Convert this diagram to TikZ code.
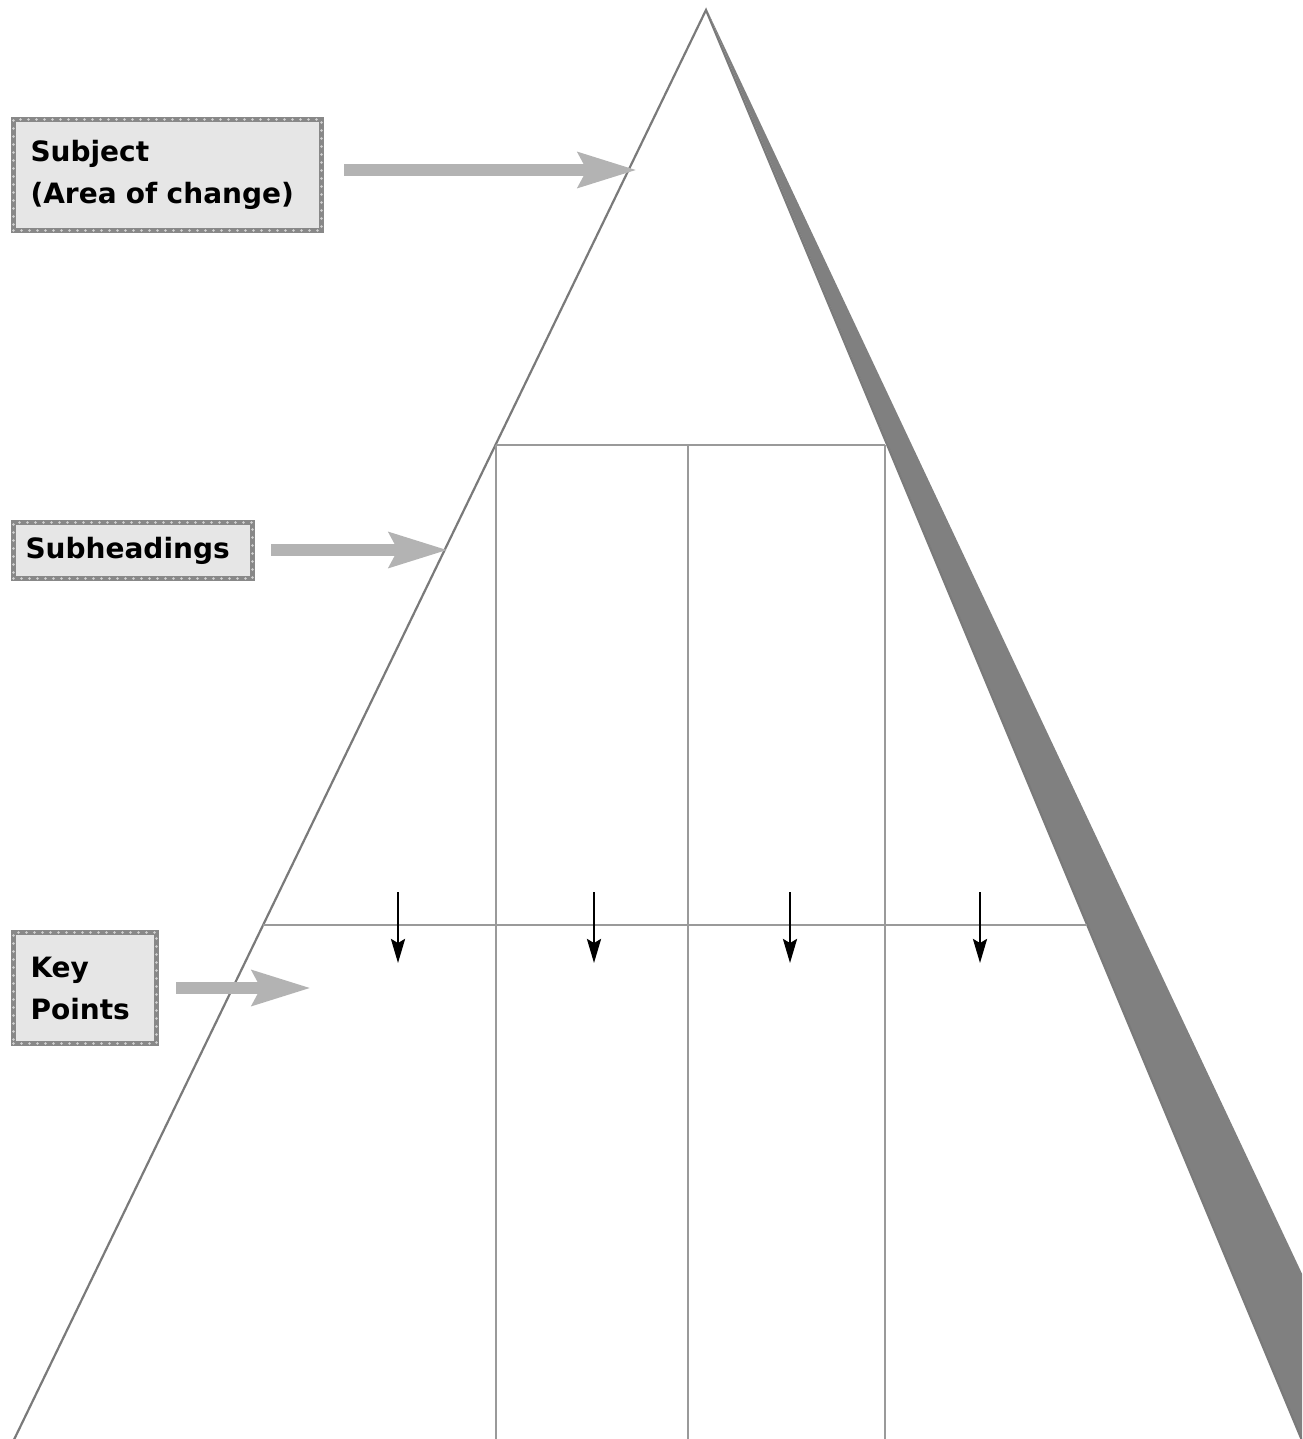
\documentclass[tikz,border=0pt]{standalone}
\usepackage{fontspec}
\setmainfont{DejaVu Sans}
\usetikzlibrary{arrows.meta}
\definecolor{shadowgrey}{HTML}{808080}
\definecolor{edge}{HTML}{7A7A7A}
\definecolor{inner}{HTML}{9A9A9A}
\definecolor{boxfill}{HTML}{E6E6E6}
\definecolor{boxline}{HTML}{888888}
\definecolor{boxdot}{HTML}{D2D2D2}
\definecolor{arrowgrey}{HTML}{B3B3B3}
\tikzset{
  labelbox/.style={draw=boxline, line width=5pt, fill=boxfill, rectangle, anchor=north west,
    font=\fontsize{28}{42}\selectfont\bfseries, align=left, inner ysep=0pt,
    postaction={draw=boxdot, line width=2.6pt, dash pattern=on 0pt off 8pt, line cap=round}},
  bigarrow/.style={draw=arrowgrey, line width=12pt, -{Stealth[length=58pt, width=34pt, inset=8pt]}},
  downarrow/.style={draw=black, line width=2.6pt, -{Stealth[length=24pt, width=14pt, inset=4pt]}},
  innerline/.style={draw=inner, line width=1.5pt},
  edgeline/.style={draw=edge, line width=2.2pt}
}
\begin{document}
\begin{tikzpicture}[x=1pt,y=-1pt]
\useasboundingbox (0,0) rectangle (1302,1439);
\begin{scope}
\clip (0,0) rectangle (1302,1439);
% shadow
\fill[shadowgrey] (708,12) -- (1385,1450) -- (1306,1450) -- cycle;
% triangle body
\fill[white] (706,10) -- (1306,1450) -- (9,1450) -- cycle;
\draw[edgeline, line join=miter] (9,1450) -- (706,10) -- (1306,1450);
% inner grid
\draw[innerline] (496,445) -- (885,445);
\draw[innerline] (263,925) -- (1087,925);
\draw[innerline] (496,445) -- (496,1445);
\draw[innerline] (688,445) -- (688,1445);
\draw[innerline] (885,445) -- (885,1445);
\end{scope}
% down arrows
\coordinate (d1s) at (398,892); \coordinate (d1e) at (398,963);
\coordinate (d2s) at (594,892); \coordinate (d2e) at (594,963);
\coordinate (d3s) at (790,892); \coordinate (d3e) at (790,963);
\coordinate (d4s) at (980,892); \coordinate (d4e) at (980,963);
\draw[downarrow] (d1s) -- (d1e);
\draw[downarrow] (d2s) -- (d2e);
\draw[downarrow] (d3s) -- (d3e);
\draw[downarrow] (d4s) -- (d4e);
% label boxes
\node[labelbox, minimum width=308pt, minimum height=111pt, inner xsep=17pt, text width=274pt] (subj) at (11,117) {Subject\\(Area of change)};
\node[labelbox, minimum width=239pt, minimum height=56pt, inner xsep=12pt, text width=215pt] (subh) at (11,520) {Subheadings};
\node[labelbox, minimum width=143pt, minimum height=111pt, inner xsep=17pt, text width=109pt] (keyp) at (11,930) {Key\\Points};
% grey arrows
\coordinate (t1) at (637,170);
\coordinate (t2) at (448,550);
\coordinate (t3) at (311,988);
\draw[bigarrow] (subj.east |- t1) ++(20,0) -- (t1);
\draw[bigarrow] (subh.east |- t2) ++(16,0) -- (t2);
\draw[bigarrow] (keyp.east |- t3) ++(17,0) -- (t3);
\end{tikzpicture}
\end{document}
